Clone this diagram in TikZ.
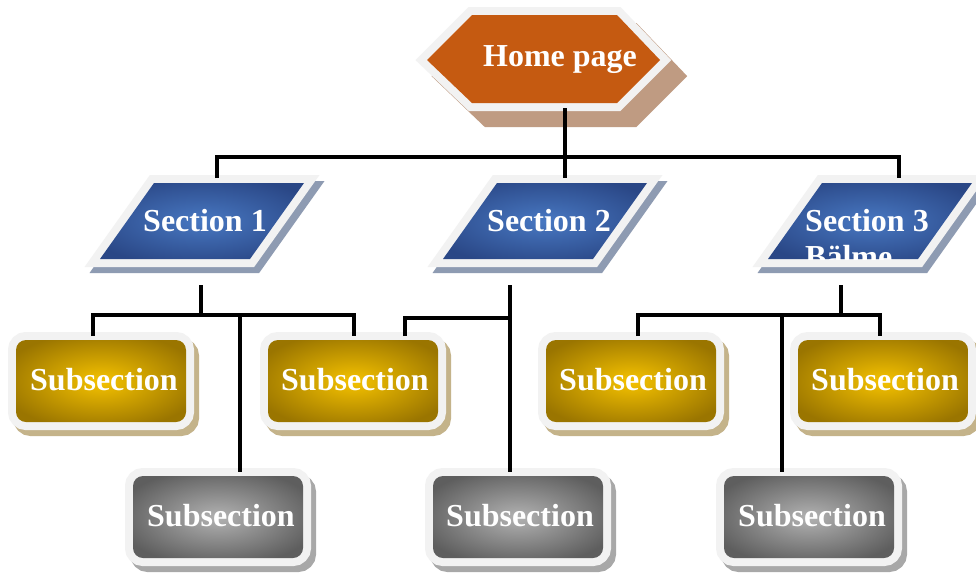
\documentclass[tikz,border=0pt]{standalone}
\usepackage{fontspec}
\setmainfont{Liberation Serif}
\definecolor{bwhite}{HTML}{F2F2F2}
\definecolor{homeor}{HTML}{C55A11}
\definecolor{homesh}{HTML}{BF9B82}
\definecolor{secsh}{HTML}{8E9BB2}
\definecolor{goldsh}{HTML}{C4B38A}
\definecolor{greysh}{HTML}{A8A8A8}
\definecolor{goldin}{HTML}{F5C200}
\definecolor{goldout}{HTML}{9A7500}
\definecolor{bluein}{HTML}{4878C2}
\definecolor{blueout}{HTML}{2A4786}
\definecolor{greyin}{HTML}{B2B2B2}
\definecolor{greyout}{HTML}{5E5E5E}
\pgfdeclareradialshading{goldrad}{\pgfpoint{0bp}{0bp}}{color(0bp)=(goldin); color(30bp)=(goldout); color(50bp)=(goldout)}
\pgfdeclareradialshading{bluerad}{\pgfpoint{0bp}{0bp}}{color(0bp)=(bluein); color(30bp)=(blueout); color(50bp)=(blueout)}
\pgfdeclareradialshading{greyrad}{\pgfpoint{0bp}{0bp}}{color(0bp)=(greyin); color(30bp)=(greyout); color(50bp)=(greyout)}
\tikzset{
  wborder/.style={draw=bwhite, line width=16pt, line join=miter, miter limit=20},
  shadowpath/.style={fill=#1, draw=#1, line width=16pt, line join=miter, miter limit=20},
  lbl/.style={text=white, font=\fontsize{32}{36}\selectfont\bfseries, inner sep=0pt},
  conn/.style={line width=3.3pt, draw=black},
}
% #1 x, #2 y (inner top-left), #3 shading, #4 shadow colour
\newcommand\subboxshape[4]{%
  \path[shadowpath=#4, rounded corners=10pt] (#1+5,#2+6) rectangle ++(170,82);
  \draw[wborder, rounded corners=10pt] (#1,#2) rectangle ++(170,82);
  \shade[shading=#3, rounded corners=10pt] (#1,#2) rectangle ++(170,82);
}
% #1 x offset
\newcommand\secshape[1]{%
  \path[shadowpath=secsh] (154+#1+5,189)--(304+#1+5,189)--(250+#1+5,265)--(100+#1+5,265)--cycle;
  \draw[wborder] (154+#1,183)--(304+#1,183)--(250+#1,259)--(100+#1,259)--cycle;
  \shade[shading=bluerad] (154+#1,183)--(304+#1,183)--(250+#1,259)--(100+#1,259)--cycle;
}
\begin{document}
\begin{tikzpicture}[x=1pt,y=-1pt]
\clip (0,0) rectangle (976,576);
\fill[white] (0,0) rectangle (976,576);

% home page
\path[shadowpath=homesh] (443,76)--(488,31)--(633,31)--(676,76)--(633,119)--(488,119)--cycle;
\draw[wborder] (427,60)--(472,15)--(617,15)--(660,60)--(617,103)--(472,103)--cycle;
\fill[homeor] (427,60)--(472,15)--(617,15)--(660,60)--(617,103)--(472,103)--cycle;
\node[lbl, anchor=base] (home) at (560,66) {Home page};

% sections
\secshape{0}
\node[lbl, anchor=base] (sec1) at (205,231) {Section 1};
\secshape{343}
\node[lbl, anchor=base] (sec2) at (549,231) {Section 2};
\secshape{668}
\begin{scope}
  \clip (822,183)--(972,183)--(918,259)--(768,259)--cycle;
  \node[lbl, anchor=base west, align=left] (sec3) at (805,267) {Section 3\\Bälme};
\end{scope}

% subsections
\subboxshape{16}{340}{goldrad}{goldsh}
\node[lbl, anchor=base] (sub1) at (104,390) {Subsection};
\subboxshape{268}{340}{goldrad}{goldsh}
\node[lbl, anchor=base] (sub2) at (355,390) {Subsection};
\subboxshape{546}{340}{goldrad}{goldsh}
\node[lbl, anchor=base] (sub3) at (633,390) {Subsection};
\subboxshape{798}{340}{goldrad}{goldsh}
\node[lbl, anchor=base] (sub4) at (885,390) {Subsection};
\subboxshape{133}{476}{greyrad}{greysh}
\node[lbl, anchor=base] (gsub1) at (221,526) {Subsection};
\subboxshape{433}{476}{greyrad}{greysh}
\node[lbl, anchor=base] (gsub2) at (520,526) {Subsection};
\subboxshape{724}{476}{greyrad}{greysh}
\node[lbl, anchor=base] (gsub3) at (812,526) {Subsection};

% connector points
\coordinate (h0) at (565,108);
\coordinate (hb) at (565,157);
\coordinate (b1) at (217,157);
\coordinate (b3) at (899,157);
\coordinate (t1) at (217,178);
\coordinate (t2) at (565,178);
\coordinate (t3) at (899,178);

\coordinate (s1o) at (201,285);
\coordinate (s1b) at (201,315);
\coordinate (s1l) at (93,315);
\coordinate (s1r) at (354,315);
\coordinate (s1m) at (240,315);
\coordinate (u1t) at (93,336);
\coordinate (u2ta) at (354,336);
\coordinate (g1t) at (240,472);

\coordinate (s2o) at (510,285);
\coordinate (s2b) at (510,318);
\coordinate (s2l) at (405,318);
\coordinate (u2tb) at (405,336);
\coordinate (g2t) at (510,472);

\coordinate (s3o) at (841,285);
\coordinate (s3b) at (841,315);
\coordinate (s3l) at (638,315);
\coordinate (s3r) at (880,315);
\coordinate (s3m) at (782,315);
\coordinate (u3t) at (638,336);
\coordinate (u4t) at (880,336);
\coordinate (g3t) at (782,472);

% connectors
\draw[conn] (t1) -- (b1) -- (b3) -- (t3);
\draw[conn] (h0) -- (t2);

\draw[conn] (u1t) -- (s1l) -- (s1r) -- (u2ta);
\draw[conn] (s1o) -- (s1b);
\draw[conn] (s1m) -- (g1t);

\draw[conn] (u2tb) -- (s2l) -- (s2b);
\draw[conn] (s2o) -- (g2t);

\draw[conn] (u3t) -- (s3l) -- (s3r) -- (u4t);
\draw[conn] (s3o) -- (s3b);
\draw[conn] (s3m) -- (g3t);
\end{tikzpicture}
\end{document}
